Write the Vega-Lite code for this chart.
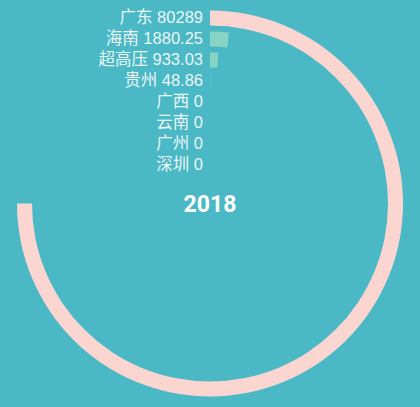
{
  "$schema": "https://vega.github.io/schema/vega-lite/v6.json",
  "width": 420,
  "height": 407,
  "autosize": {"type": "fit", "contains": "padding"},
  "padding": 0,
  "background": "#4bb8c6",
  "config": {"view": {"stroke": null}},
  "data": {
    "values": [
      {"name": "广东", "value": 80289},
      {"name": "海南", "value": 1880.25},
      {"name": "超高压", "value": 933.03},
      {"name": "贵州", "value": 48.86},
      {"name": "广西", "value": 0},
      {"name": "云南", "value": 0},
      {"name": "广州", "value": 0},
      {"name": "深圳", "value": 0}
    ]
  },
  "layer": [
    {
      "mark": {"type": "arc", "radiusOffset": 7.5, "radius2Offset": -7.5},
      "encoding": {
        "theta": {
          "field": "value",
          "type": "quantitative",
          "stack": null,
          "scale": {"domain": [0, 80289], "range": [0, 4.712389]}
        },
        "radius": {
          "field": "name",
          "type": "nominal",
          "sort": null,
          "scale": {"type": "point", "range": [185.5, 38.5], "padding": 0}
        },
        "radius2": {"field": "name"},
        "color": {
          "field": "name",
          "type": "nominal",
          "sort": null,
          "scale": {
            "range": ["#fbd6d1", "#86d4c1", "#86d4c1", "#86d4c1", "#86d4c1", "#86d4c1", "#86d4c1", "#86d4c1"]
          },
          "legend": null
        }
      }
    },
    {
      "transform": [{"calculate": "datum.name + ' ' + datum.value", "as": "label"}],
      "mark": {
        "type": "text",
        "align": "right",
        "baseline": "middle",
        "dx": -7,
        "font": "Liberation Sans, Noto Sans CJK SC",
        "fontSize": 16.5,
        "color": "#eaf6f7"
      },
      "encoding": {
        "theta": {"value": 0},
        "radius": {"field": "name", "type": "nominal", "sort": null},
        "text": {"field": "label"}
      }
    },
    {
      "data": {"values": [{"year": "2018"}]},
      "mark": {
        "type": "text",
        "align": "center",
        "baseline": "middle",
        "font": "Roboto",
        "fontWeight": "bold",
        "fontSize": 23,
        "color": "#ffffff",
        "dy": 1
      },
      "encoding": {"text": {"field": "year"}}
    }
  ]
}
